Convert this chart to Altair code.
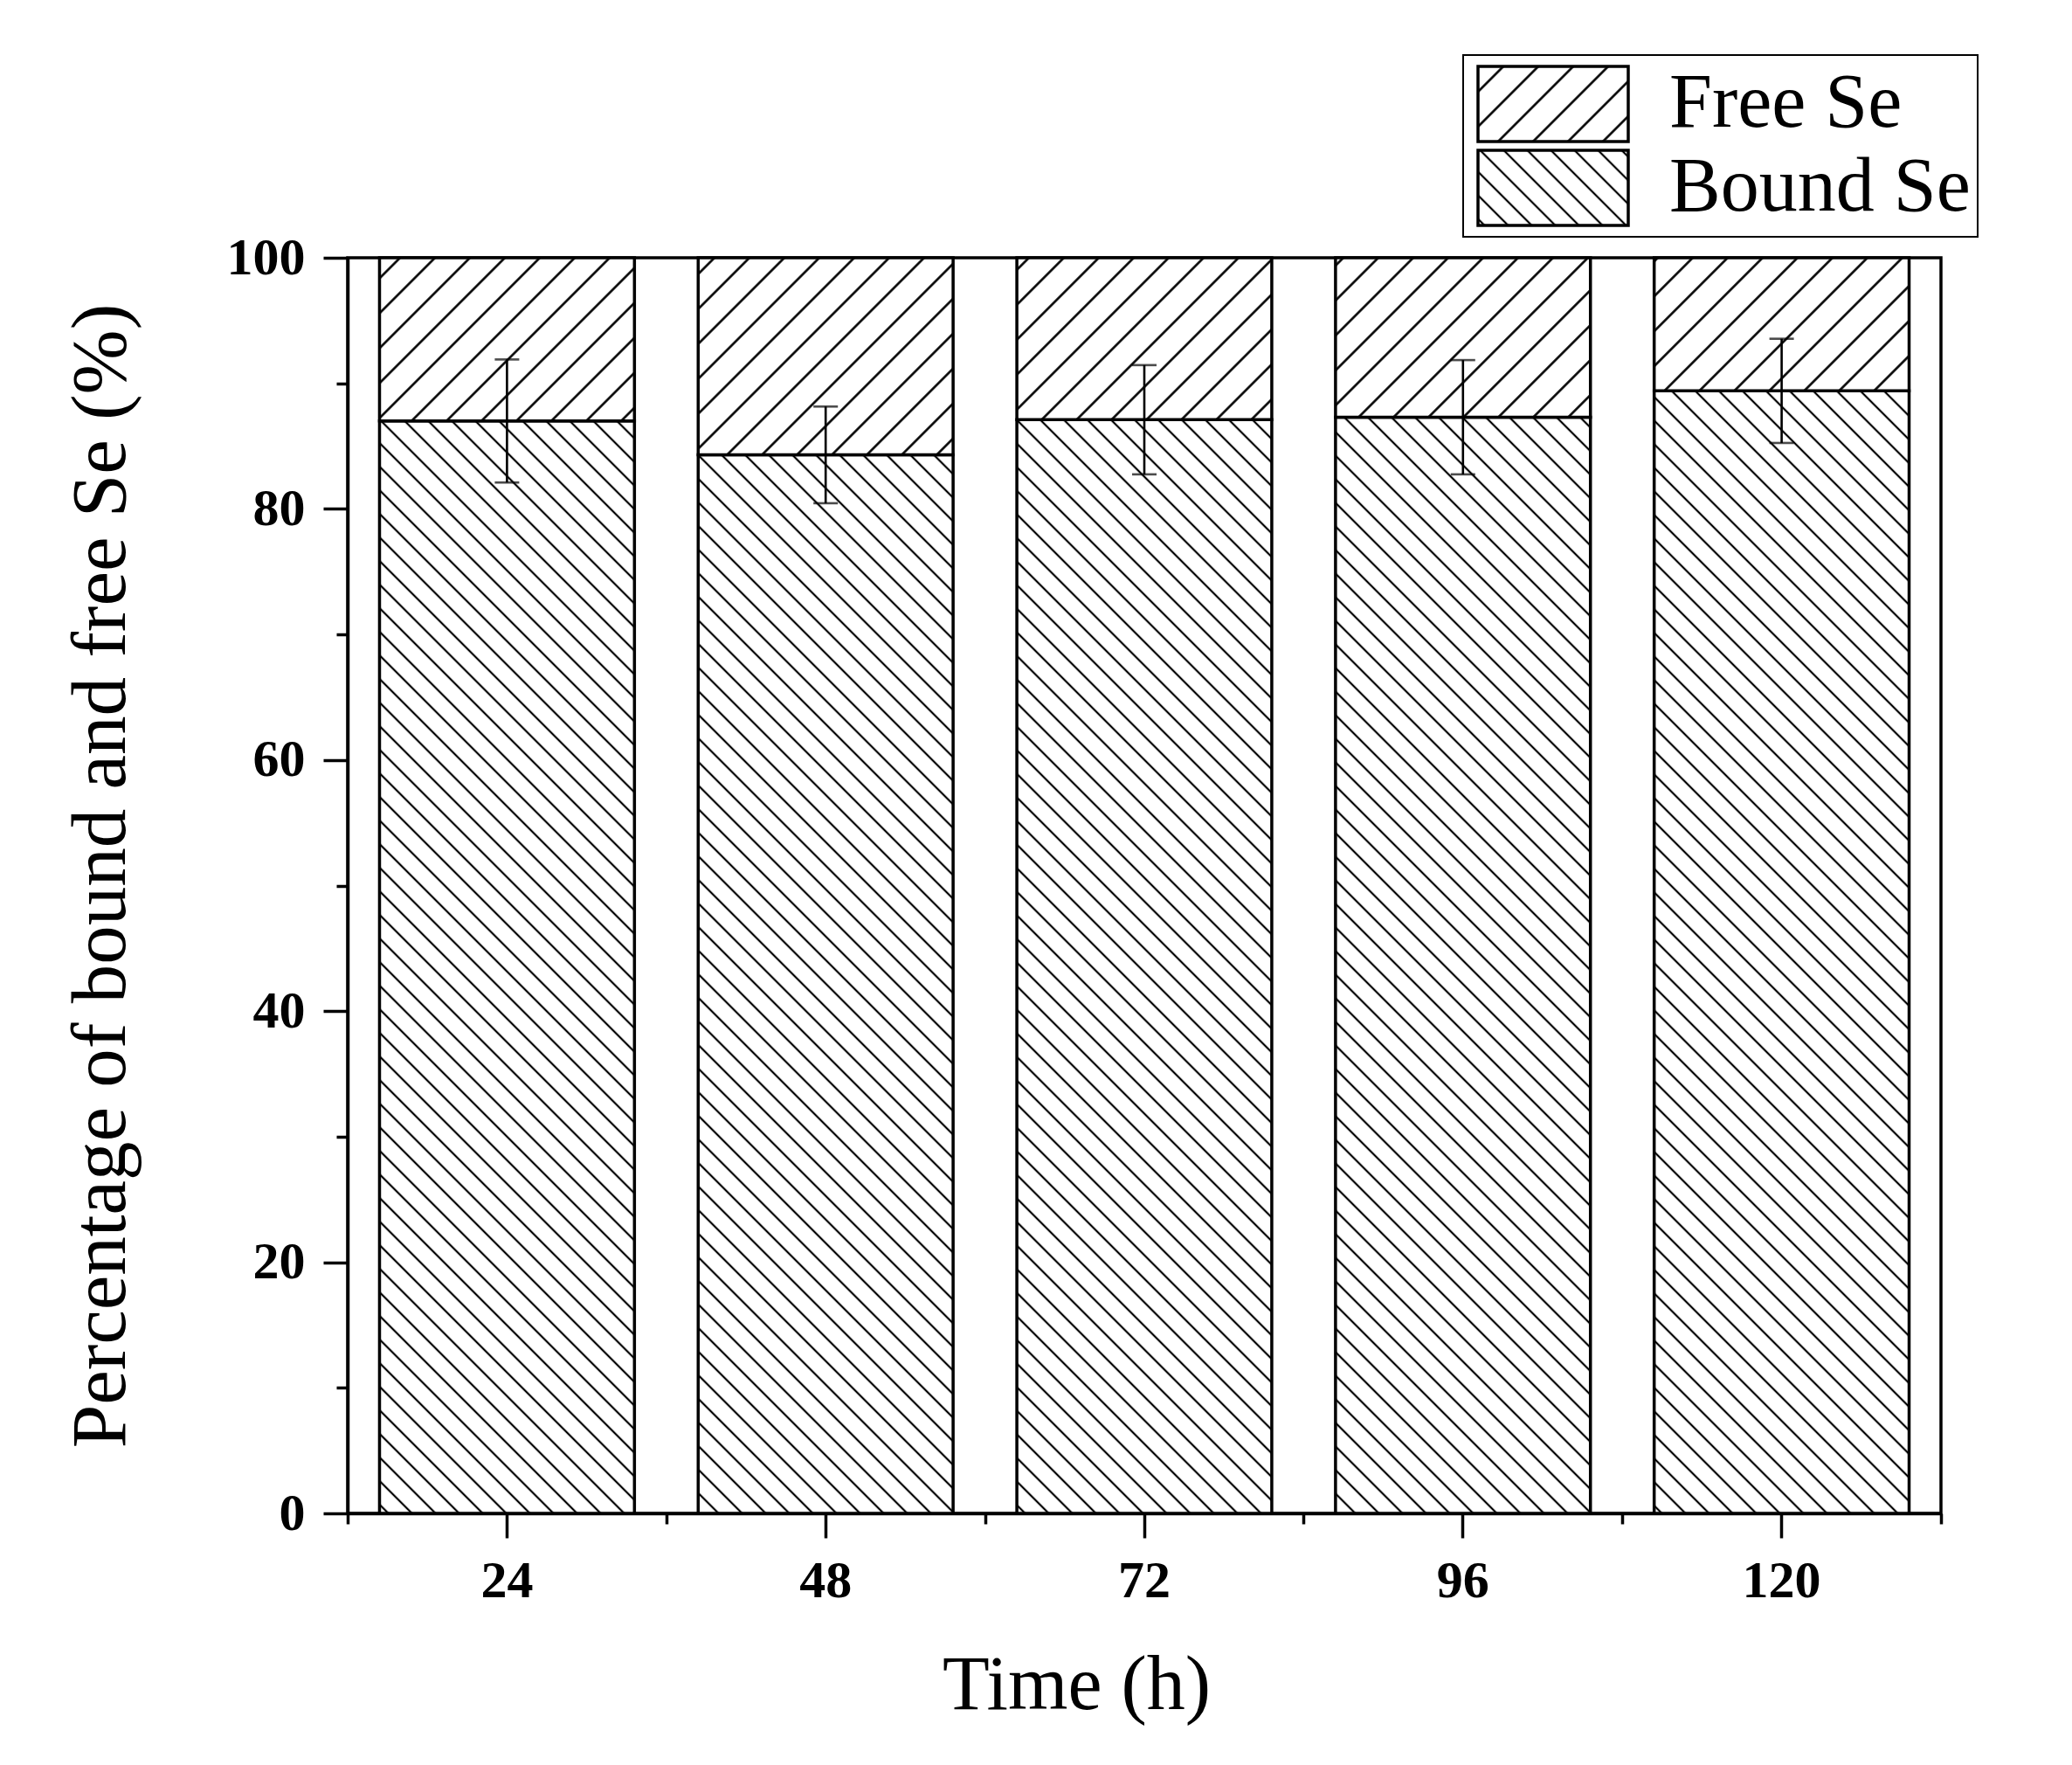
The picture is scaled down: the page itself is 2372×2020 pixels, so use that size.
import altair as alt
import pandas as pd
import jinja2

# ---------------- data ----------------
times = ["24", "48", "72", "96", "120"]
bound_se = [87.0, 84.3, 87.1, 87.3, 89.4]      # % bound Se (stack boundary)
bound_err = [4.9, 3.85, 4.35, 4.55, 4.15]      # error bar half-length
series = ["Free Se", "Bound Se"]
y_major = [0, 20, 40, 60, 80, 100]
y_minor = [10, 30, 50, 70, 90]

rows = []
for t, b in zip(times, bound_se):
    rows.append({"time": t, "series": "Bound Se", "low": 0.0, "high": b})
    rows.append({"time": t, "series": "Free Se", "low": b, "high": 100.0})
bars_df = pd.DataFrame(rows)
err_df = pd.DataFrame({"time": times, "mean": bound_se, "err": bound_err})

FONT = "Liberation Serif"

x_scale = alt.Scale(paddingInner=0, paddingOuter=0)
y_scale = alt.Scale(domain=[0, 100], nice=False, zero=True)

bars = alt.Chart(bars_df).mark_bar(
    stroke="black", strokeWidth=3.5, width=alt.RelativeBandSize(0.8)
).encode(
    x=alt.X("time:N", sort=times, scale=x_scale,
            axis=alt.Axis(orient="bottom", title="Time (h)", labelAngle=0,
                          tickSize=28, tickWidth=3.5, domainWidth=3.5,
                          labelPadding=20, labelFontSize=60, labelFontWeight="bold",
                          titleFontSize=88, titleFontWeight="normal",
                          titleX=834, titleY=223, titleBaseline="alphabetic",
                          titleAlign="center")),
    y=alt.Y("low:Q", scale=y_scale,
            axis=alt.Axis(orient="left", values=y_major, tickSize=28, tickWidth=3.5,
                          domainWidth=3.5, labelPadding=21, labelFontSize=60,
                          labelFontWeight="bold",
                          title="Percentage of bound and free Se (%)",
                          titleFontSize=89, titleFontWeight="normal",
                          titleAngle=270, titleX=-256, titleY=707,
                          titleBaseline="alphabetic", titleAlign="center")),
    y2="high:Q",
    color=alt.Color("series:N",
                    scale=alt.Scale(domain=series,
                                    range=["url(#hatchFree) white", "url(#hatchBound) white"]),
                    legend=alt.Legend(title=None, orient="none", legendX=1277, legendY=-232,
                                      direction="vertical",
                                      symbolType="M-1,-0.5H1V0.5H-1Z", symbolSize=29584,
                                      symbolStrokeColor="black", symbolStrokeWidth=3.5,
                                      symbolOffset=7, labelOffset=45,
                                      labelFont=FONT, labelFontSize=88, labelColor="black",
                                      labelLimit=0, labelBaseline="middle",
                                      clipHeight=96, rowPadding=0, padding=8,
                                      strokeColor="black", fillColor="white")),
)

err_base = alt.Chart(err_df).transform_calculate(
    lo="datum.mean - datum.err", hi="datum.mean + datum.err"
)

rules = err_base.mark_rule(color="black", strokeWidth=2.6).encode(
    x=alt.X("time:N", sort=times, scale=x_scale,
            axis=alt.Axis(orient="bottom", tickBand="extent", tickSize=12, tickWidth=3.5,
                          labels=False, domain=False, title=None)),
    y=alt.Y("lo:Q", scale=y_scale,
            axis=alt.Axis(orient="left", values=y_minor, tickSize=13, tickWidth=3.5,
                          labels=False, domain=False, title=None)),
    y2="hi:Q",
)

caps_lo = err_base.mark_tick(color="black", thickness=2.6, size=28).encode(
    x=alt.X("time:N", sort=times, scale=x_scale, axis=None),
    y=alt.Y("lo:Q", scale=y_scale, axis=None),
)
caps_hi = err_base.mark_tick(color="black", thickness=2.6, size=28).encode(
    x=alt.X("time:N", sort=times, scale=x_scale, axis=None),
    y=alt.Y("hi:Q", scale=y_scale, axis=None),
)

chart = alt.layer(bars, rules, caps_lo, caps_hi).resolve_axis(
    x="independent", y="independent"
).properties(
    width=1824, height=1437,
    padding={"left": 390, "top": 287, "right": 60, "bottom": 273},
    autosize=alt.AutoSizeParams(type="none"),
    background="white",
).configure_view(
    stroke="black", strokeWidth=3.5
).configure_axis(
    labelFont=FONT, titleFont=FONT, labelColor="black", titleColor="black",
    tickColor="black", domainColor="black", grid=False
).configure_legend(strokeWidth=2)

PAGE = jinja2.Template("""<!DOCTYPE html>
<html>
<head>
  <style>
    #{{ output_div }}.vega-embed { width: 100%; display: flex; }
    #{{ output_div }}.vega-embed details,
    #{{ output_div }}.vega-embed details summary { position: relative; }
  </style>
  <script type="text/javascript" src="{{ base_url }}/vega@{{ vega_version }}"></script>
  <script type="text/javascript" src="{{ base_url }}/vega-lite@{{ vegalite_version }}"></script>
  <script type="text/javascript" src="{{ base_url }}/vega-embed@{{ vegaembed_version }}"></script>
</head>
<body>
  <svg width="0" height="0" style="position:absolute;left:0;top:0" aria-hidden="true">
    <defs>
      <pattern id="hatchFree" patternUnits="userSpaceOnUse" width="28.28" height="28.28"
               patternTransform="rotate(45)">
        <rect x="0" y="0" width="28.28" height="28.28" fill="white"/>
        <line x1="14.14" y1="-2" x2="14.14" y2="30.3" stroke="black" stroke-width="2.6"/>
      </pattern>
      <pattern id="hatchBound" patternUnits="userSpaceOnUse" width="19.09" height="19.09"
               patternTransform="rotate(-45)">
        <rect x="0" y="0" width="19.09" height="19.09" fill="white"/>
        <line x1="9.55" y1="-2" x2="9.55" y2="21.1" stroke="black" stroke-width="2.2"/>
      </pattern>
    </defs>
  </svg>
  <div id="{{ output_div }}"></div>
  <script>
    (function(vegaEmbed) {
      var spec = {{ spec }};
      var embedOpt = {{ embed_options }};
      function showError(el, error){
        el.innerHTML = ('<div style="color:red;"><p>JavaScript Error: ' + error.message + '</p></div>');
        throw error;
      }
      const el = document.getElementById('{{ output_div }}');
      vegaEmbed("#{{ output_div }}", spec, embedOpt).catch(error => showError(el, error));
    })(vegaEmbed);
  </script>
</body>
</html>
""")

try:
    chart.save("out.html", embed_options={"renderer": "svg", "actions": False}, template=PAGE)
except TypeError:
    chart.save("out.html", embed_options={"renderer": "svg", "actions": False})
